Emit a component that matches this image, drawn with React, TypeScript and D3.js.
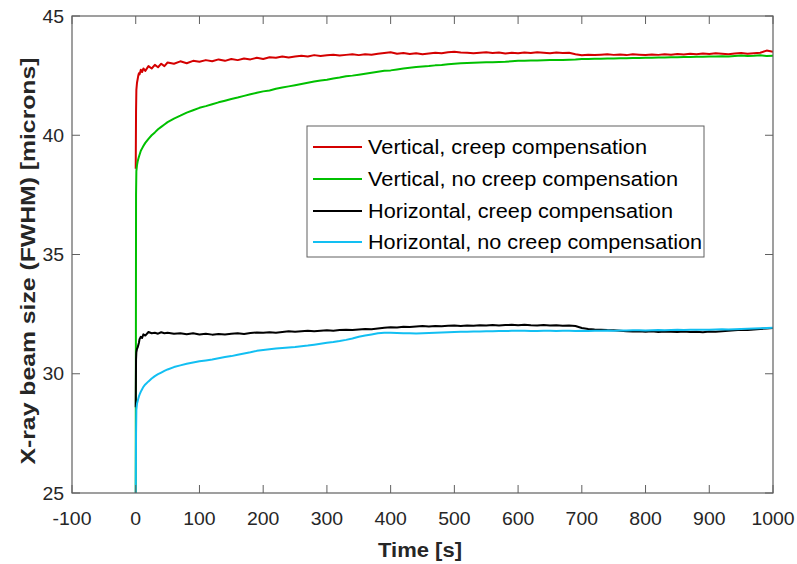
import React from "react";
import * as d3 from "d3";

const times = [0,0.5,1,2,3,4,5,6,8,10,12,15,20,25,30,35,40,45,50,60,70,80,90,100,110,120,130,140,150,160,170,180,190,200,210,220,230,240,250,260,270,280,290,300,310,320,330,340,350,360,370,380,390,400,410,420,430,440,450,460,470,480,490,500,510,520,530,540,550,560,570,580,590,600,610,620,630,640,650,660,670,680,690,700,710,720,730,740,750,760,770,780,790,800,810,820,830,840,850,860,870,880,890,900,910,920,930,940,950,960,970,980,990,1000];

const vertCreep = [38.6,41.0,41.9,42.2,42.35,42.5,42.6,42.55,42.75,42.65,42.8,42.7,42.9,42.8,42.95,42.85,43.0,42.9,43.05,43.0,43.1,43.02,43.12,43.08,43.15,43.1,43.18,43.12,43.2,43.15,43.22,43.18,43.25,43.2,43.27,43.25,43.3,43.26,43.3,43.33,43.3,43.36,43.32,43.35,43.38,43.34,43.37,43.4,43.36,43.4,43.38,43.42,43.45,43.48,43.42,43.45,43.41,43.44,43.4,43.43,43.46,43.44,43.48,43.5,43.47,43.46,43.44,43.46,43.48,43.45,43.47,43.43,43.46,43.44,43.47,43.45,43.48,43.46,43.44,43.47,43.45,43.46,43.4,43.35,43.38,43.36,43.38,43.4,43.37,43.39,43.36,43.4,43.38,43.36,43.39,43.37,43.4,43.38,43.41,43.39,43.42,43.4,43.43,43.41,43.44,43.42,43.4,43.43,43.45,43.42,43.44,43.46,43.55,43.5];

const vertNoCreep = [25,37.5,38.5,38.75,38.9,39.0,39.1,39.18,39.35,39.45,39.55,39.68,39.85,40.0,40.12,40.25,40.35,40.45,40.55,40.7,40.82,40.95,41.05,41.15,41.22,41.3,41.38,41.45,41.52,41.58,41.65,41.72,41.78,41.84,41.88,41.95,42.0,42.05,42.1,42.15,42.2,42.25,42.3,42.33,42.38,42.42,42.47,42.5,42.54,42.58,42.62,42.66,42.7,42.72,42.76,42.8,42.83,42.86,42.88,42.9,42.93,42.95,42.98,43.0,43.02,43.03,43.04,43.05,43.06,43.06,43.07,43.08,43.1,43.12,43.12,43.13,43.13,43.14,43.15,43.15,43.16,43.17,43.18,43.2,43.2,43.21,43.21,43.22,43.22,43.23,43.23,43.24,43.24,43.25,43.25,43.26,43.26,43.27,43.27,43.28,43.28,43.29,43.29,43.3,43.3,43.31,43.3,43.32,43.34,43.32,43.33,43.35,43.32,43.33];

const horCreep = [28.6,30.6,30.9,31.05,31.1,31.2,31.3,31.45,31.55,31.5,31.65,31.6,31.75,31.7,31.72,31.68,31.74,31.7,31.72,31.68,31.7,31.66,31.7,31.65,31.68,31.64,31.67,31.65,31.68,31.7,31.67,31.71,31.73,31.72,31.74,31.72,31.75,31.78,31.76,31.78,31.8,31.78,31.8,31.82,31.8,31.83,31.85,31.83,31.86,31.88,31.87,31.9,31.93,31.95,31.94,31.97,31.96,31.98,32.0,31.98,32.0,31.99,32.01,32.02,32.0,32.02,32.01,32.03,32.02,32.04,32.02,32.04,32.05,32.03,32.05,32.03,32.02,32.04,32.02,32.03,32.01,32.02,32.0,31.92,31.88,31.86,31.85,31.83,31.82,31.8,31.78,31.77,31.78,31.76,31.78,31.75,31.77,31.76,31.75,31.77,31.75,31.76,31.74,31.77,31.76,31.78,31.8,31.82,31.84,31.83,31.86,31.88,31.9,31.92];

const horNoCreep = [25,27.5,28.5,28.75,28.85,28.95,29.05,29.12,29.25,29.35,29.45,29.55,29.68,29.8,29.9,29.98,30.05,30.12,30.18,30.28,30.35,30.42,30.47,30.52,30.56,30.6,30.65,30.7,30.74,30.8,30.85,30.9,30.96,31.0,31.03,31.06,31.08,31.1,31.12,31.15,31.18,31.22,31.26,31.3,31.33,31.37,31.42,31.48,31.55,31.6,31.65,31.7,31.72,31.72,31.71,31.7,31.7,31.69,31.7,31.71,31.72,31.73,31.74,31.75,31.76,31.76,31.77,31.77,31.78,31.78,31.79,31.79,31.8,31.8,31.8,31.79,31.79,31.8,31.8,31.79,31.8,31.8,31.79,31.8,31.79,31.8,31.8,31.81,31.8,31.81,31.81,31.82,31.82,31.81,31.82,31.83,31.82,31.83,31.84,31.83,31.84,31.85,31.84,31.85,31.86,31.87,31.86,31.87,31.88,31.89,31.9,31.91,31.92,31.93];

const seriesNames = [
  "Vertical, creep compensation",
  "Vertical, no creep compensation",
  "Horizontal, creep compensation",
  "Horizontal, no creep compensation",
];
const seriesValues = [vertCreep, vertNoCreep, horCreep, horNoCreep];
const seriesColors = ["#d40000", "#00c000", "#000000", "#12bff2"];
const legendTextWidths = [279, 310, 305, 334];

const xTicks = [-100,0,100,200,300,400,500,600,700,800,900,1000];
const yTicks = [25,30,35,40,45];

const W = 797, H = 564;
const M = { left: 72, top: 16, right: 24, bottom: 71 };

export default function App() {
  const x = d3.scaleLinear().domain([-100, 1000]).range([M.left, W - M.right]);
  const y = d3.scaleLinear().domain([25, 45]).range([H - M.bottom, M.top]);
  const line = d3.line<[number, number]>().x(d => x(d[0])).y(d => y(d[1]));
  const axisColor = "#606060";
  const tickLen = 8;
  const x0 = M.left, x1 = W - M.right, y0 = H - M.bottom, y1 = M.top;
  const font = "'Liberation Sans', Arial, sans-serif";

  const legX = 307, legY = 126, legW = 397, legH = 131;
  const rowY = [147, 179, 211, 242];

  return (
    <svg width={W} height={H} style={{ position: "absolute", left: 0, top: 0 }} fontFamily={font}>
      <rect x={0} y={0} width={W} height={H} fill="#fff" />
      <defs>
        <clipPath id="plotclip">
          <rect x={x0} y={y1} width={x1 - x0} height={y0 - y1} />
        </clipPath>
      </defs>
      <g clipPath="url(#plotclip)">
        {seriesValues.map((vals, i) => (
          <path
            key={i}
            d={line(times.map((t, j) => [t, vals[j]] as [number, number])) || ""}
            fill="none"
            stroke={seriesColors[i]}
            strokeWidth={2}
            strokeLinejoin="round"
          />
        ))}
      </g>
      <rect x={x0} y={y1} width={x1 - x0} height={y0 - y1} fill="none" stroke={axisColor} strokeWidth={1.2} />
      {xTicks.map(t => (
        <g key={"x" + t}>
          <line x1={x(t)} x2={x(t)} y1={y0} y2={y0 - tickLen} stroke={axisColor} strokeWidth={1} />
          <line x1={x(t)} x2={x(t)} y1={y1} y2={y1 + tickLen} stroke={axisColor} strokeWidth={1} />
          <text transform={`translate(${x(t)},525) scale(1.08,1)`} textAnchor="middle" fontSize={18} fill="#262626">{t}</text>
        </g>
      ))}
      {yTicks.map(t => (
        <g key={"y" + t}>
          <line x1={x0} x2={x0 + tickLen} y1={y(t)} y2={y(t)} stroke={axisColor} strokeWidth={1} />
          <line x1={x1} x2={x1 - tickLen} y1={y(t)} y2={y(t)} stroke={axisColor} strokeWidth={1} />
          <text transform={`translate(64,${y(t) + 6.5}) scale(1.08,1)`} textAnchor="end" fontSize={18} fill="#262626">{t}</text>
        </g>
      ))}
      <text x={420} y={557} textAnchor="middle" fontSize={20} fontWeight="bold" fill="#262626" textLength={84} lengthAdjust="spacingAndGlyphs">Time [s]</text>
      <text transform={`translate(35,261) rotate(-90)`} textAnchor="middle" fontSize={20} fontWeight="bold" fill="#262626" textLength={407} lengthAdjust="spacingAndGlyphs">X-ray beam size (FWHM) [microns]</text>
      <rect x={legX} y={legY} width={legW} height={legH} fill="#fff" stroke={axisColor} strokeWidth={1} />
      {seriesNames.map((n, i) => (
        <g key={n}>
          <line x1={313} x2={362} y1={rowY[i]} y2={rowY[i]} stroke={seriesColors[i]} strokeWidth={2} />
          <text x={368} y={rowY[i] + 7} fontSize={20} fill="#000" textLength={legendTextWidths[i]} lengthAdjust="spacingAndGlyphs">{n}</text>
        </g>
      ))}
    </svg>
  );
}
